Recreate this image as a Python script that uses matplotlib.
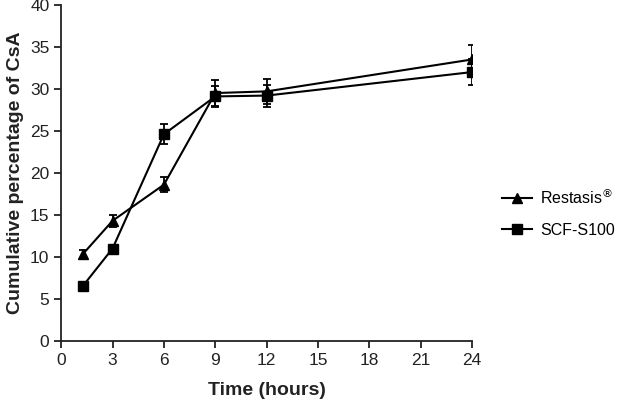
import matplotlib.pyplot as plt

plt.rcParams['font.family'] = ['Liberation Sans', 'DejaVu Sans']

# Data
time_h = [1.25, 3, 6, 9, 12, 24]
restasis = [10.3, 14.3, 18.6, 29.5, 29.7, 33.5]
restasis_err = [0.5, 0.7, 0.9, 1.5, 1.5, 1.7]
scf = [6.5, 11.0, 24.6, 29.1, 29.2, 32.0]
scf_err = [0.3, 0.3, 1.2, 1.3, 1.3, 1.5]

xticks = [0, 3, 6, 9, 12, 15, 18, 21, 24]
yticks = [0, 5, 10, 15, 20, 25, 30, 35, 40]

fig = plt.figure(figsize=(6.18, 4.03), dpi=100)
ax = fig.add_axes([0.099, 0.154, 0.665, 0.834])

ax.errorbar(time_h, restasis, yerr=restasis_err, color='black', marker='^',
            markersize=7, linewidth=1.5, elinewidth=1.3, capsize=3, capthick=1.3,
            label='Restasis$^{®}$')
ax.errorbar(time_h, scf, yerr=scf_err, color='black', marker='s',
            markersize=7, linewidth=1.5, elinewidth=1.3, capsize=3, capthick=1.3,
            label='SCF-S100')

ax.set_xlim(0, 24)
ax.set_ylim(0, 40)
ax.set_xticks(xticks)
ax.set_yticks(yticks)
ax.spines['top'].set_visible(False)
ax.spines['right'].set_visible(False)
for side in ['left', 'bottom']:
    ax.spines[side].set_linewidth(1.3)
    ax.spines[side].set_color('#222222')
ax.tick_params(direction='out', length=5, width=1.3, labelsize=12.5, colors='#222222')

ax.set_xlabel('Time (hours)', fontsize=14, fontweight='bold', color='#222222', labelpad=10)
ax.set_ylabel('Cumulative percentage of CsA', fontsize=14, fontweight='bold', color='#222222', labelpad=4)

handles, labels = ax.get_legend_handles_labels()
handles = [h[0] for h in handles]
fig.legend(handles, labels, loc='center left', bbox_to_anchor=(0.812, 0.473),
           frameon=False, fontsize=11.5, handlelength=1.9, labelspacing=1.0,
           handletextpad=0.5, borderaxespad=0, borderpad=0)

plt.savefig('out.png', dpi=100)
